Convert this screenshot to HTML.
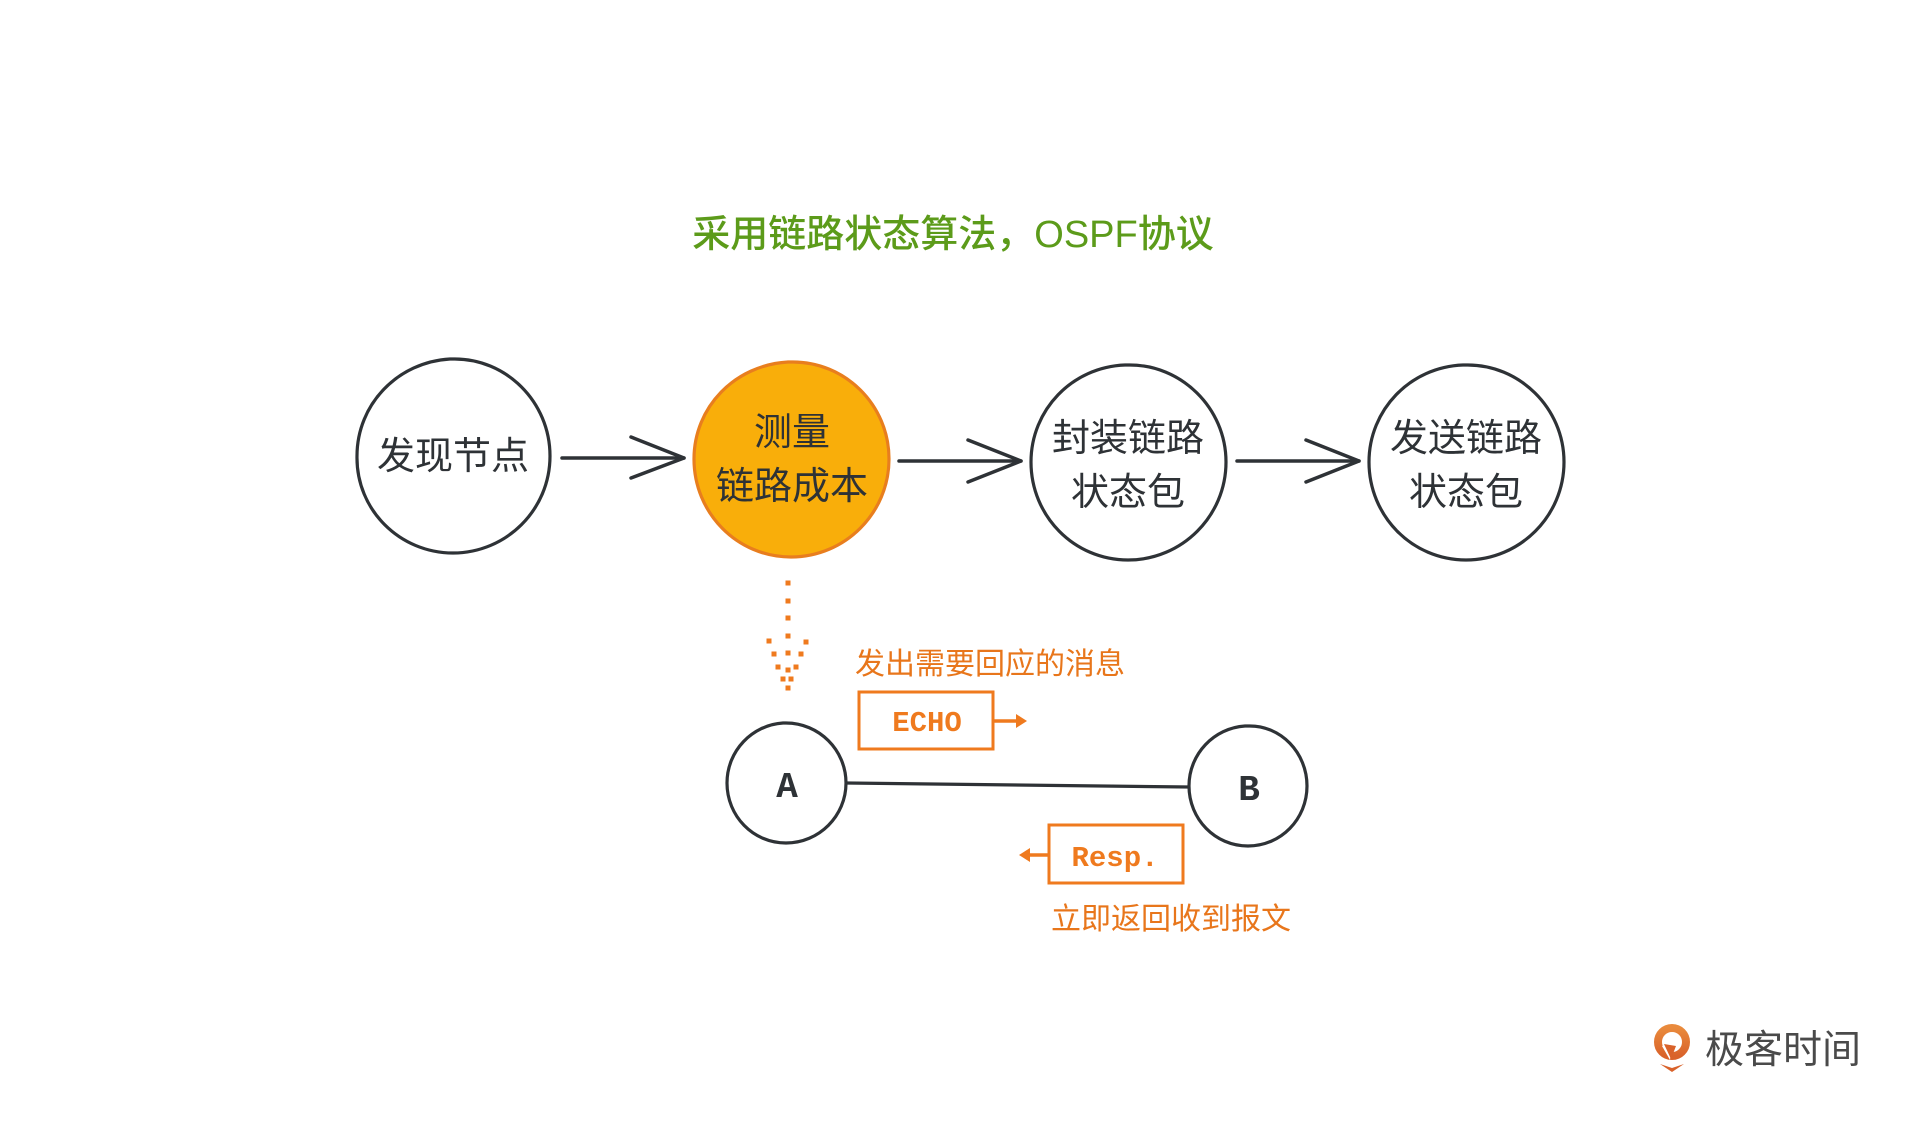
<!DOCTYPE html>
<html>
<head>
<meta charset="utf-8">
<style>
html,body{margin:0;padding:0;background:#fff;}
body{width:1920px;height:1145px;overflow:hidden;}
svg{display:block;}
.cj{font-family:"Liberation Sans","Noto Sans CJK SC",sans-serif;}
.mono{font-family:"Liberation Mono","DejaVu Sans Mono",monospace;}
</style>
</head>
<body>
<svg width="1920" height="1145" viewBox="0 0 1920 1145" xmlns="http://www.w3.org/2000/svg">
  <rect width="1920" height="1145" fill="#ffffff"/>

  <!-- Title -->
  <text x="953" y="247" text-anchor="middle" class="cj" font-size="38" font-weight="500" fill="#5C9B1A">采用链路状态算法，OSPF协议</text>

  <!-- Top circles -->
  <g fill="none" stroke="#2E3236" stroke-width="3.2">
    <path d="M453,359 C506,358 550,402 550,456 C550,510 506,553 453,553 C400,553 356,510 357,456 C357,404 398,362 450,359 Z"/>
    <path d="M1128,365 C1181,364 1226,408 1226,462 C1226,516 1182,560 1128,560 C1074,560 1031,516 1031,462 C1031,410 1072,367 1125,365 Z"/>
    <path d="M1466,365 C1519,364 1564,408 1564,462 C1564,516 1520,560 1466,560 C1412,560 1369,516 1369,462 C1369,410 1410,367 1463,365 Z"/>
  </g>
  <path d="M791,362 C845,361 889,405 889,459 C889,513 845,557 791,557 C737,557 694,513 694,459 C694,407 735,365 788,362 Z" fill="#F9AE0A" stroke="#E87E1E" stroke-width="3.2"/>

  <!-- Circle labels -->
  <g class="cj" font-size="38" fill="#2E3236" text-anchor="middle">
    <text x="453" y="469">发现节点</text>
    <text x="792" y="445">测量</text>
    <text x="792" y="499">链路成本</text>
    <text x="1128" y="451">封装链路</text>
    <text x="1128" y="505">状态包</text>
    <text x="1466" y="451">发送链路</text>
    <text x="1466" y="505">状态包</text>
  </g>

  <!-- Top arrows -->
  <g fill="none" stroke="#2E3236" stroke-width="3.5" stroke-linecap="round" stroke-linejoin="round">
    <line x1="562" y1="458" x2="684" y2="458"/>
    <polyline points="631,437 684,458 631,478"/>
    <line x1="899" y1="461" x2="1021" y2="461"/>
    <polyline points="968,440 1021,461 968,482"/>
    <line x1="1237" y1="461" x2="1359" y2="461"/>
    <polyline points="1306,440 1359,461 1306,482"/>
  </g>

  <!-- Dotted orange arrow -->
  <g fill="#EF7A1E">
    <rect x="785.5" y="580.5" width="5" height="5"/>
    <rect x="785.5" y="598.5" width="5" height="5"/>
    <rect x="785.5" y="615.5" width="5" height="5"/>
    <rect x="785.5" y="633.5" width="5" height="5"/>
    <rect x="785.5" y="650.5" width="5" height="5"/>
    <rect x="785.5" y="667.5" width="5" height="5"/>
    <rect x="785.5" y="685.5" width="5" height="5"/>
    <rect x="766.5" y="638.5" width="5" height="5"/>
    <rect x="771.5" y="651.5" width="5" height="5"/>
    <rect x="775.5" y="664.5" width="5" height="5"/>
    <rect x="780.5" y="676.5" width="5" height="5"/>
    <rect x="803.5" y="639.5" width="5" height="5"/>
    <rect x="798.5" y="651.5" width="5" height="5"/>
    <rect x="793.5" y="664.5" width="5" height="5"/>
    <rect x="788.5" y="676.5" width="5" height="5"/>
  </g>

  <!-- Labels orange -->
  <g class="cj" font-size="30" fill="#E8761B">
    <text x="990" y="674" text-anchor="middle">发出需要回应的消息</text>
    <text x="1171" y="929" text-anchor="middle">立即返回收到报文</text>
  </g>

  <!-- ECHO box -->
  <rect x="859" y="692" width="134" height="57" fill="none" stroke="#EF7A1E" stroke-width="3"/>
  <text x="927" y="731" text-anchor="middle" class="mono" font-size="29" font-weight="bold" fill="#EF7A1E">ECHO</text>
  <line x1="993" y1="721" x2="1018" y2="721" stroke="#EF7A1E" stroke-width="3.5"/>
  <polygon points="1027,721 1016,714 1016,728" fill="#EF7A1E"/>

  <!-- Resp box -->
  <rect x="1049" y="825" width="134" height="58" fill="none" stroke="#EF7A1E" stroke-width="3"/>
  <text x="1115" y="866" text-anchor="middle" class="mono" font-size="29" font-weight="bold" fill="#EF7A1E">Resp.</text>
  <line x1="1049" y1="855" x2="1028" y2="855" stroke="#EF7A1E" stroke-width="3.5"/>
  <polygon points="1019,855 1030,848 1030,862" fill="#EF7A1E"/>

  <!-- A, B circles & link -->
  <g fill="none" stroke="#2E3236" stroke-width="3.2">
    <path d="M786,723 C819,723 846,750 846,783 C846,816 819,843 786,843 C753,843 727,816 727,783 C727,751 752,725 783,723 Z"/>
    <path d="M1248,726 C1281,725 1307,753 1307,786 C1307,819 1281,846 1248,846 C1215,846 1189,819 1189,786 C1189,754 1214,728 1245,726 Z"/>
    <line x1="846" y1="783" x2="1189" y2="787"/>
  </g>
  <g class="mono" font-size="36" font-weight="bold" fill="#2E3236" text-anchor="middle">
    <text x="787" y="797">A</text>
    <text x="1249" y="800">B</text>
  </g>

  <!-- Logo -->
  <defs>
    <linearGradient id="lg" x1="0" y1="0" x2="0" y2="1">
      <stop offset="0" stop-color="#E98A3C"/>
      <stop offset="1" stop-color="#D9622A"/>
    </linearGradient>
  </defs>
  <g>
    <circle cx="1672" cy="1042" r="14" fill="none" stroke="url(#lg)" stroke-width="8"/>
    <polygon points="1662,1046 1670,1060 1672,1042" fill="#ffffff"/>
    <polygon points="1664,1044 1671,1059 1676,1046" fill="#D9622A"/>
    <path d="M1660,1064 L1672,1072 L1684,1064 L1672,1068 Z" fill="#D9622A"/>
  </g>
  <text x="1705" y="1063" class="cj" font-size="39" fill="#4A4A4A">极客时间</text>
</svg>
</body>
</html>
